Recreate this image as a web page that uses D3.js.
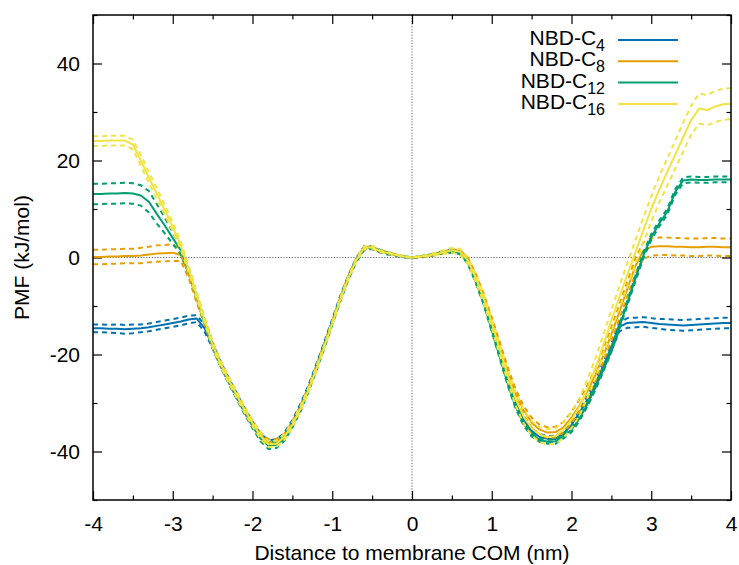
<html>
<head>
<meta charset="utf-8">
<script src="https://d3js.org/d3.v7.min.js"></script>
<style>
body { margin: 0; background: #fff; }
text { font-family: "Liberation Sans", Arial, sans-serif; }
</style>
</head>
<body>
<svg id="chart" width="739" height="565"></svg>
<script>
// distance grid (nm)
var xs = [-4.0,-3.9,-3.8,-3.7,-3.6,-3.5,-3.4,-3.3,-3.2,-3.1,
          -3.0,-2.9,-2.8,-2.7,-2.6,-2.5,-2.4,-2.3,-2.2,-2.1,
          -2.0,-1.9,-1.8,-1.7,-1.6,-1.5,-1.4,-1.3,-1.2,-1.1,
          -1.0,-0.9,-0.8,-0.7,-0.6,-0.5,-0.4,-0.3,-0.2,-0.1,
           0.0, 0.1, 0.2, 0.3, 0.4, 0.5, 0.6, 0.7, 0.8, 0.9,
           1.0, 1.1, 1.2, 1.3, 1.4, 1.5, 1.6, 1.7, 1.8, 1.9,
           2.0, 2.1, 2.2, 2.3, 2.4, 2.5, 2.6, 2.7, 2.8, 2.9,
           3.0, 3.1, 3.2, 3.3, 3.4, 3.5, 3.6, 3.7, 3.8, 3.9,
           4.0];

// PMF (kJ/mol) and its error, one pair per probe
var c4 = [-14.6,-14.6,-14.7,-14.7,-14.8,-14.7,-14.6,-14.4,-14.1,-13.8,
          -13.5,-13.2,-12.8,-12.6,-14.6,-18.2,-22.0,-25.3,-28.4,-31.5,
          -34.3,-36.8,-38.2,-38.0,-36.6,-34.0,-30.7,-26.8,-22.4,-17.8,
          -13.1,-8.3,-4.0,-0.4,2.0,2.0,1.2,0.8,0.4,0.1,
          0.0,0.1,0.3,0.7,1.1,1.3,1.0,-0.6,-4.3,-8.8,
          -14.0,-19.5,-25.0,-30.0,-33.5,-35.8,-37.0,-37.4,-37.4,-36.3,
          -34.5,-32.0,-29.3,-26.0,-22.3,-18.5,-14.3,-13.5,-13.4,-13.3,
          -13.5,-13.7,-13.8,-13.9,-14.0,-13.9,-13.8,-13.7,-13.6,-13.5,
          -13.5];
var c4Err = [0.8,0.8,0.8,0.9,0.9,0.9,0.8,0.8,0.8,0.8,
             0.8,0.8,0.8,0.7,0.7,0.6,0.5,0.5,0.5,0.5,
             0.5,0.5,0.5,0.5,0.5,0.5,0.5,0.4,0.4,0.4,
             0.4,0.4,0.3,0.3,0.3,0.3,0.2,0.2,0.1,0.1,
             0.0,0.1,0.1,0.2,0.2,0.3,0.3,0.3,0.3,0.4,
             0.4,0.4,0.5,0.5,0.5,0.5,0.6,0.6,0.6,0.6,
             0.6,0.7,0.7,0.7,0.8,0.8,0.9,1.0,1.0,1.0,
             1.0,1.0,1.1,1.1,1.1,1.1,1.1,1.1,1.1,1.1,
             1.1];

var c8 = [0.1,0.1,0.2,0.2,0.3,0.3,0.4,0.6,0.8,0.9,
          1.0,0.5,-3.5,-8.6,-13.3,-18.0,-21.8,-25.1,-28.2,-31.3,
          -34.1,-36.6,-38.1,-38.0,-36.8,-34.3,-31.0,-27.2,-22.8,-18.2,
          -13.4,-8.5,-4.1,-0.5,1.9,2.0,1.3,0.9,0.5,0.2,
          0.0,0.1,0.4,0.7,1.1,1.4,1.2,-0.4,-3.8,-8.0,
          -12.8,-18.0,-23.3,-28.0,-31.5,-34.0,-35.5,-36.1,-36.0,-35.0,
          -33.0,-30.5,-27.6,-24.2,-20.2,-15.8,-11.2,-6.5,-1.8,1.4,
          2.2,2.3,2.3,2.2,2.2,2.1,2.1,2.2,2.2,2.1,
          2.1];
var c8Err = [1.5,1.5,1.5,1.5,1.5,1.5,1.6,1.6,1.7,1.7,
             1.7,1.2,0.8,0.7,0.6,0.6,0.5,0.5,0.5,0.5,
             0.5,0.5,0.6,0.6,0.5,0.5,0.5,0.4,0.4,0.4,
             0.3,0.3,0.3,0.3,0.3,0.2,0.2,0.2,0.1,0.1,
             0.0,0.1,0.1,0.2,0.2,0.3,0.3,0.4,0.4,0.5,
             0.5,0.6,0.7,0.8,0.9,1.0,1.0,1.1,1.1,1.1,
             1.2,1.2,1.3,1.3,1.4,1.4,1.5,1.5,1.6,1.7,
             1.8,1.8,1.8,1.8,1.8,1.8,1.8,1.8,1.8,1.8,
             1.8];

var c12 = [13.1,13.1,13.2,13.2,13.3,13.2,12.8,11.5,9.0,6.6,
           4.0,1.5,-2.6,-8.0,-13.2,-18.2,-22.0,-25.4,-28.6,-31.7,
           -34.6,-37.2,-38.8,-38.6,-37.2,-34.6,-31.3,-27.4,-23.0,-18.4,
           -13.6,-8.8,-4.4,-0.7,1.8,2.1,1.4,0.9,0.5,0.2,
           0.0,0.2,0.5,0.8,1.1,1.3,0.9,-1.0,-5.0,-9.5,
           -15.0,-20.5,-26.0,-30.8,-34.3,-36.5,-37.6,-38.0,-37.9,-36.8,
           -35.5,-33.2,-30.2,-26.8,-23.0,-19.0,-14.3,-9.4,-4.4,0.4,
           4.2,7.0,9.4,13.5,15.9,16.1,16.0,16.0,16.1,16.1,
           16.1];
var c12Err = [2.1,2.1,2.1,2.1,2.1,2.1,2.1,2.2,2.0,1.6,
              1.2,0.8,0.6,0.6,0.6,0.6,0.6,0.6,0.6,0.6,
              0.6,0.7,0.7,0.7,0.6,0.5,0.5,0.4,0.4,0.4,
              0.3,0.3,0.3,0.3,0.3,0.2,0.2,0.2,0.1,0.1,
              0.0,0.1,0.1,0.1,0.2,0.2,0.2,0.3,0.3,0.3,
              0.3,0.3,0.4,0.4,0.4,0.4,0.4,0.4,0.5,0.5,
              0.5,0.5,0.5,0.5,0.5,0.5,0.5,0.5,0.6,0.6,
              0.6,0.6,0.6,0.6,0.6,0.6,0.6,0.6,0.6,0.6,
              0.6];

var c16 = [24.0,24.0,24.1,24.1,24.1,23.3,20.0,16.5,13.2,9.8,
           6.3,2.5,-2.5,-7.8,-13.0,-18.0,-21.9,-25.2,-28.3,-31.4,
           -34.2,-36.8,-38.5,-38.4,-37.0,-34.5,-31.2,-27.4,-23.0,-18.4,
           -13.6,-8.7,-4.3,-0.6,2.0,2.1,1.3,0.9,0.5,0.2,
           0.0,0.2,0.4,0.7,1.1,1.5,1.2,-0.6,-4.2,-8.5,
           -13.5,-19.0,-24.3,-29.2,-32.8,-35.2,-36.5,-37.0,-36.8,-35.5,
           -33.5,-30.8,-27.0,-22.8,-18.0,-13.0,-8.2,-3.6,1.0,5.6,
           10.0,14.0,17.6,21.2,24.8,28.3,30.7,30.4,31.1,31.6,
           31.7];
var c16Err = [1.0,1.0,1.0,1.0,1.0,1.0,1.1,1.1,1.1,1.0,
              0.9,0.8,0.7,0.7,0.6,0.6,0.6,0.6,0.6,0.6,
              0.6,0.6,0.6,0.6,0.6,0.6,0.5,0.5,0.5,0.4,
              0.4,0.4,0.3,0.3,0.3,0.3,0.2,0.2,0.1,0.1,
              0.0,0.1,0.2,0.3,0.4,0.5,0.6,0.7,0.8,0.9,
              1.0,1.1,1.2,1.3,1.4,1.5,1.5,1.6,1.6,1.7,
              1.7,1.8,1.9,2.0,2.1,2.2,2.3,2.4,2.5,2.6,
              2.6,2.7,2.8,2.9,3.0,3.0,3.1,3.1,3.2,3.2,
              3.2];

var labelSubs = ["4", "8", "12", "16"];
var colors = ["#0072b2", "#e69f00", "#009e73", "#f0e442"];
var xTicks = [-4, -3, -2, -1, 0, 1, 2, 3, 4];
var xMinor = [-3.5, -2.5, -1.5, -0.5, 0.5, 1.5, 2.5, 3.5];
var yTicks = [-40, -20, 0, 20, 40];
var yMinor = [-50, -30, -10, 10, 30, 50];

var series = [
  {sub: labelSubs[0], mean: c4,  err: c4Err,  color: colors[0]},
  {sub: labelSubs[1], mean: c8,  err: c8Err,  color: colors[1]},
  {sub: labelSubs[2], mean: c12, err: c12Err, color: colors[2]},
  {sub: labelSubs[3], mean: c16, err: c16Err, color: colors[3]}
];

var plotL = 93, plotR = 731, plotT = 15, plotB = 500;
var x = d3.scaleLinear().domain([-4, 4]).range([plotL, plotR]);
var y = d3.scaleLinear().domain([-50, 50]).range([plotB, plotT]);
var plain = function(d) { return String(d); };  // hyphen minus, like gnuplot

var svg = d3.select("#chart");

svg.append("defs").append("clipPath").attr("id", "clip")
  .append("rect").attr("x", plotL).attr("y", plotT)
  .attr("width", plotR - plotL).attr("height", plotB - plotT);

// zero axes
svg.append("line")
  .attr("x1", plotL).attr("x2", plotR).attr("y1", y(0)).attr("y2", y(0))
  .attr("stroke", "#666").attr("stroke-width", 1).attr("stroke-dasharray", "1.2,1.6");
svg.append("line")
  .attr("x1", x(0)).attr("x2", x(0)).attr("y1", plotT).attr("y2", plotB)
  .attr("stroke", "#666").attr("stroke-width", 1).attr("stroke-dasharray", "1.2,1.6");

// ticks, all four sides, pointing inwards
function styleAxis(g) {
  g.select(".domain").remove();
  g.selectAll(".tick line").attr("stroke", "#000").attr("stroke-width", 1.2);
  g.selectAll("text").attr("fill", "#000")
    .style("font-family", "'Liberation Sans', Arial, sans-serif").style("font-size", "21px");
}

svg.append("g").attr("transform", "translate(0," + plotB + ")")
  .call(d3.axisBottom(x).tickValues(xTicks).tickSize(-9).tickPadding(16).tickFormat(plain))
  .call(styleAxis);
svg.append("g").attr("transform", "translate(0," + plotB + ")")
  .call(d3.axisBottom(x).tickValues(xMinor).tickSize(-4.5).tickFormat(""))
  .call(styleAxis);
svg.append("g").attr("transform", "translate(0," + plotT + ")")
  .call(d3.axisTop(x).tickValues(xTicks).tickSize(-9).tickFormat(""))
  .call(styleAxis);
svg.append("g").attr("transform", "translate(0," + plotT + ")")
  .call(d3.axisTop(x).tickValues(xMinor).tickSize(-4.5).tickFormat(""))
  .call(styleAxis);

svg.append("g").attr("transform", "translate(" + plotL + ",0)")
  .call(d3.axisLeft(y).tickValues(yTicks).tickSize(-9).tickPadding(13).tickFormat(plain))
  .call(styleAxis);
svg.append("g").attr("transform", "translate(" + plotL + ",0)")
  .call(d3.axisLeft(y).tickValues(yMinor).tickSize(-4.5).tickFormat(""))
  .call(styleAxis);
svg.append("g").attr("transform", "translate(" + plotR + ",0)")
  .call(d3.axisRight(y).tickValues(yTicks).tickSize(-9).tickFormat(""))
  .call(styleAxis);
svg.append("g").attr("transform", "translate(" + plotR + ",0)")
  .call(d3.axisRight(y).tickValues(yMinor).tickSize(-4.5).tickFormat(""))
  .call(styleAxis);

// curves
var plot = svg.append("g").attr("clip-path", "url(#clip)");
series.forEach(function(s) {
  var line = d3.line()
    .x(function(d, i) { return x(xs[i]); });
  plot.append("path")
    .datum(s.mean)
    .attr("fill", "none").attr("stroke", s.color).attr("stroke-width", 2)
    .attr("stroke-linejoin", "round")
    .attr("d", line.y(function(d) { return y(d); }));
  [1, -1].forEach(function(sign) {
    plot.append("path")
      .datum(s.mean)
      .attr("fill", "none").attr("stroke", s.color).attr("stroke-width", 2)
      .attr("stroke-dasharray", "5,4")
      .attr("d", line.y(function(d, i) { return y(d + sign * s.err[i]); }));
  });
});

// frame
svg.append("rect")
  .attr("x", plotL).attr("y", plotT).attr("width", plotR - plotL).attr("height", plotB - plotT)
  .attr("fill", "none").attr("stroke", "#000").attr("stroke-width", 1.5);

// axis titles
svg.append("text")
  .attr("x", (plotL + plotR) / 2).attr("y", 560)
  .attr("text-anchor", "middle").attr("font-size", 21)
  .text("Distance to membrane COM (nm)");
svg.append("text")
  .attr("transform", "translate(29," + y(0) + ") rotate(-90)")
  .attr("text-anchor", "middle").attr("font-size", 21)
  .text("PMF (kJ/mol)");

// legend
var legend = svg.append("g");
series.forEach(function(s, i) {
  var ly = 40 + i * 21.3;
  var t = legend.append("text")
    .attr("x", 605).attr("y", ly + 5)
    .attr("text-anchor", "end").attr("font-size", 21);
  t.append("tspan").text("NBD-C");
  t.append("tspan").attr("dy", 6).attr("font-size", 16).text(s.sub);
  legend.append("line")
    .attr("x1", 618).attr("x2", 678).attr("y1", ly).attr("y2", ly)
    .attr("stroke", s.color).attr("stroke-width", 2);
});
</script>
</body>
</html>
